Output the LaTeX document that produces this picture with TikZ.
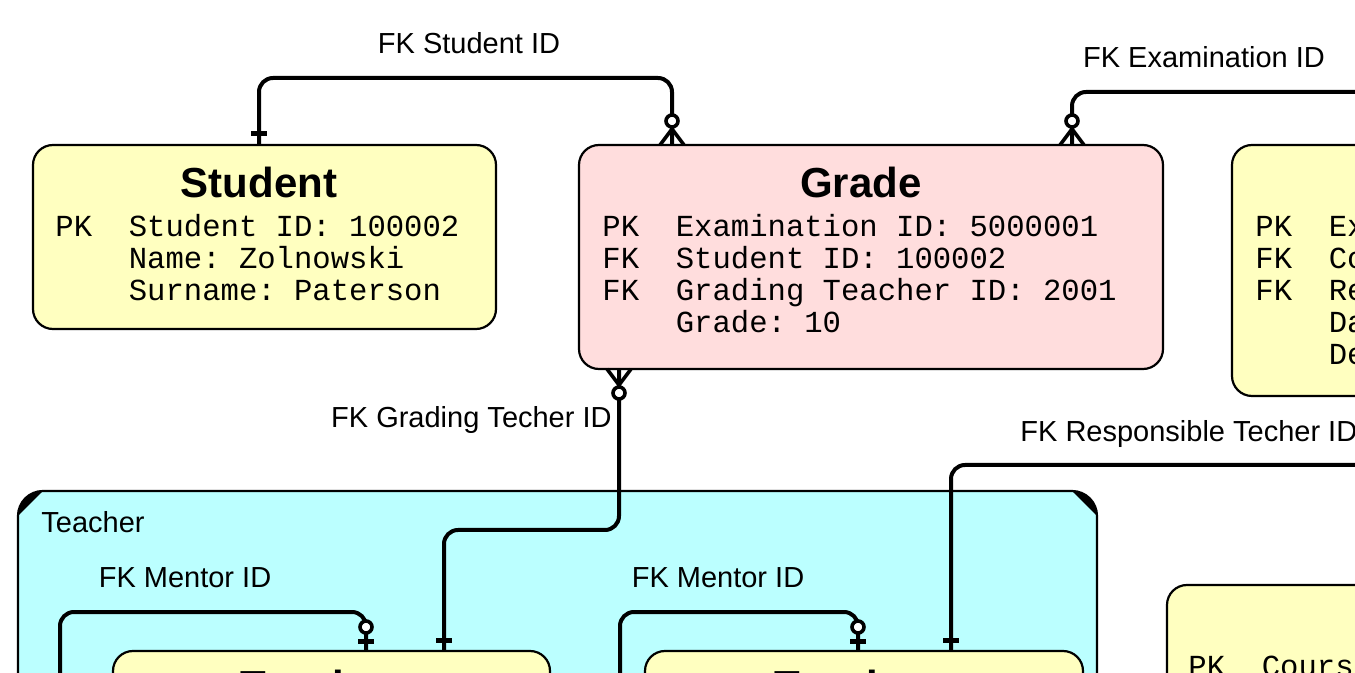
\documentclass[tikz,border=0pt]{standalone}
\usepackage{fontspec}
\setmainfont{Liberation Sans}
\setsansfont{Liberation Sans}
\setmonofont{Liberation Mono}
\usepackage{tikz}
\usetikzlibrary{positioning}
\usetikzlibrary{calc}

\definecolor{entyellow}{RGB}{255,255,192}
\definecolor{entpink}{RGB}{255,221,221}
\definecolor{grpcyan}{RGB}{187,255,255}

\begin{document}
\begin{tikzpicture}
[
	x=0.5pt, y=-0.5pt,
	entity/.style={draw, line width=1.1pt, rectangle, rounded corners=10pt, anchor=north west, inner sep=0pt, outer sep=0pt},
	tgroup/.style={draw, line width=1.1pt, rectangle, rounded corners=12.5pt, anchor=north west, fill=grpcyan, inner sep=0pt, outer sep=0pt},
	enttitle/.style={anchor=base, inner sep=0pt, font=\bfseries\fontsize{21pt}{25pt}\selectfont},
	attrs/.style={anchor=base west, inner sep=0pt, font=\ttfamily\fontsize{15.3pt}{16pt}\selectfont},
	fk/.style={inner sep=0pt, font=\fontsize{14.5pt}{17pt}\selectfont},
	rel/.style={line width=2pt, rounded corners=7pt},
	endmark/.style={line width=1.8pt},
	zeromany/.pic={
		\draw[endmark] (-12,0) -- (0,-16) -- (12,0) (0,0) -- (0,-16);
		\draw[endmark, fill=white] (0,-24) circle[radius=3pt];
	},
	one/.pic={
		\draw[endmark, line width=2.5pt] (-8,-11) -- (8,-11);
	},
	zeroone/.pic={
		\draw[endmark, line width=2.5pt] (-8,-10) -- (8,-10);
		\draw[endmark, fill=white] (0,-24) circle[radius=3pt];
	}
]
	\useasboundingbox (0,0) rectangle (1355,673);
	\clip (0,0) rectangle (1355,673);

	% teacher group
	\node[tgroup, minimum width=539.5pt, minimum height=200pt] (Teachers) at (18,491) {};
	\fill ($(Teachers.north west)+(25,0)$) .. controls +(-14,0) and +(0,-14) .. ($(Teachers.north west)+(0,25)$) -- cycle;
	\fill ($(Teachers.north east)+(-25,0)$) .. controls +(14,0) and +(0,-14) .. ($(Teachers.north east)+(0,25)$) -- cycle;
	\node[fk, anchor=base west] (TeachersL) at ($(Teachers.north west)+(23,41)$) {Teacher};

	% entities
	\node[entity, fill=entyellow, minimum width=231.5pt, minimum height=92pt] (Student) at (33,145) {};
	\node[entity, fill=entpink, minimum width=292pt, minimum height=112pt] (Grade) at (579,145) {};
	\node[entity, fill=entyellow, minimum width=240pt, minimum height=125.5pt] (Exam) at (1232,145) {};
	\node[entity, fill=entyellow, minimum width=218.5pt, minimum height=150pt] (TeacherA) at (113,651) {};
	\node[entity, fill=entyellow, minimum width=219pt, minimum height=150pt] (TeacherB) at (645,651) {};
	\node[entity, fill=entyellow, minimum width=240pt, minimum height=150pt] (Course) at (1167,585) {};

	\node[enttitle] (StudentT) at ($(Student.north west)+(226,53)$) {Student};
	\node[attrs] (StudentA) at ($(Student.north west)+(22,92)$) {\begin{tabular}[t]{@{}l@{\hspace{1.2em}}l@{}}
		PK & Student ID: 100002\\
		& Name: Zolnowski\\
		& Surname: Paterson
	\end{tabular}};

	\node[enttitle] (GradeT) at ($(Grade.north west)+(282,53)$) {Grade};
	\node[attrs] (GradeA) at ($(Grade.north west)+(23,92)$) {\begin{tabular}[t]{@{}l@{\hspace{1.2em}}l@{}}
		PK & Examination ID: 5000001\\
		FK & Student ID: 100002\\
		FK & Grading Teacher ID: 2001\\
		& Grade: 10
	\end{tabular}};

	\node[attrs] (ExamA) at ($(Exam.north west)+(23,92)$) {\begin{tabular}[t]{@{}l@{\hspace{1.2em}}l@{}}
		PK & Examination ID\\
		FK & Course ID\\
		FK & Responsible Teacher ID\\
		& Date\\
		& Description
	\end{tabular}};

	\node[enttitle] (TeacherAT) at ($(TeacherA.north west)+(206,49)$) {Teacher};
	\node[enttitle] (TeacherBT) at ($(TeacherB.north west)+(208,49)$) {Teacher};
	\node[attrs] (CourseA) at ($(Course.north west)+(21,91)$) {\begin{tabular}[t]{@{}l@{\hspace{1.2em}}l@{}}
		PK & Course ID
	\end{tabular}};

	% connector ends
	\coordinate (sG) at ($(Student.north west)+(226,0)$);
	\coordinate (gS) at ($(Grade.north west)+(93,0)$);
	\coordinate (gE) at ($(Grade.north west)+(493,0)$);
	\coordinate (gT) at ($(Grade.south west)+(40,0)$);
	\coordinate (tG) at ($(TeacherA.north west)+(331,0)$);
	\coordinate (tR) at ($(TeacherB.north west)+(306,0)$);
	\coordinate (tM1) at ($(TeacherA.north west)+(253,0)$);
	\coordinate (tM2) at ($(TeacherB.north west)+(213,0)$);

	\draw[rel] (sG) -- ++(0,-67) -| (gS);
	\draw[rel] (gE) -- ++(0,-53) -| (Exam.north);
	\draw[rel] (gT) -- ++(0,161) -| (tG);
	\draw[rel] (tR) -- ++(0,-186) -| (Exam.south);
	\draw[rel] (tM1) -- ++(0,-39) -- ++(-306,0) |- (TeacherA.west);
	\draw[rel] (tM2) -- ++(0,-39) -- ++(-238,0) |- (TeacherB.west);

	\path (sG) pic {one};
	\path (gS) pic {zeromany};
	\path (gE) pic {zeromany};
	\path (gT) pic[rotate=180] {zeromany};
	\path (tG) pic {one};
	\path (tR) pic {one};
	\path (tM1) pic {zeroone};
	\path (tM2) pic {zeroone};

	% relation labels
	\node[fk, anchor=base] (LStudent) at (469,54) {FK Student ID};
	\node[fk, anchor=base] (LExam) at (1204,68) {FK Examination ID};
	\node[fk, anchor=base east] (LGrading) at (612,428) {FK Grading Techer ID};
	\node[fk, anchor=base west] (LResp) at (1020,442) {FK Responsible Techer ID};
	\node[fk, anchor=base] (LMentorA) at (185,588) {FK Mentor ID};
	\node[fk, anchor=base] (LMentorB) at (718,588) {FK Mentor ID};
\end{tikzpicture}
\end{document}
